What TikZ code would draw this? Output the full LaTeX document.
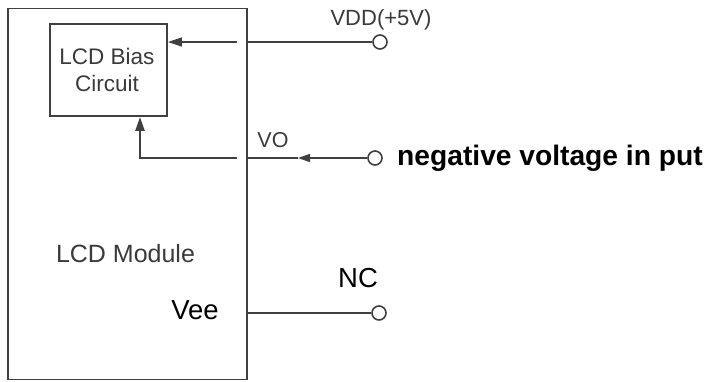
\documentclass[tikz,border=0pt]{standalone}
\usepackage{fontspec}
\setmainfont{Liberation Sans}
\usetikzlibrary{arrows.meta}
\definecolor{ln}{HTML}{404040}
\definecolor{gt}{HTML}{3A3A3A}
\begin{document}
\begin{tikzpicture}[x=1bp,y=-1bp,
  wire/.style={draw=ln,line width=1.6bp},
  boxstyle/.style={draw=ln,line width=1.8bp,inner sep=0pt},
  pinc/.style={circle,draw=ln,line width=1.6bp,minimum size=14bp,inner sep=0pt,fill=white},
  graytext/.style={text=gt,inner sep=0pt,anchor=center},
  blacktext/.style={text=black,inner sep=0pt,anchor=center},
  tipA/.style={-{Triangle[length=14bp,width=9bp]}},
  tipB/.style={-{Triangle[length=12bp,width=8bp]}}]
\useasboundingbox (0,0) rectangle (709,381);
% main module box
\node[boxstyle,minimum width=239bp,minimum height=371bp] (lcd) at (127.5,194) {};
% bias circuit box
\node[boxstyle,minimum width=117bp,minimum height=92bp] (bias) at (108.5,70) {};
\node[graytext,font=\fontsize{22.5bp}{27bp}\selectfont,align=center] (biastxt) at (107,69.5) {LCD Bias\\Circuit};
% labels
\node[graytext,font=\fontsize{25bp}{28bp}\selectfont] (modtxt) at (125.5,254) {LCD Module};
\node[blacktext,font=\fontsize{27.5bp}{30bp}\selectfont] (veetxt) at (195,310) {Vee};
\node[graytext,font=\fontsize{22bp}{26bp}\selectfont] (vddtxt) at (381,20) {VDD(+5V)};
\node[graytext,font=\fontsize{21.5bp}{26bp}\selectfont] (votxt) at (273,140) {VO};
\node[blacktext,font=\fontsize{27.5bp}{30bp}\selectfont] (nctxt) at (358,278) {NC};
% pins
\node[pinc] (vddpin) at (380,42) {};
\node[pinc] (vopin) at (375,158) {};
\node[pinc] (ncpin) at (379,313) {};
\node[blacktext,anchor=west,font=\bfseries\fontsize{28.2bp}{30bp}\selectfont] (negtxt) at (397,158) {negative voltage in put};
% coordinates
\coordinate (vddin) at (237,42);
\coordinate (voin) at (237,158);
\coordinate (vocorner) at (140,158);
\coordinate (vomid) at (298,158);
% VDD connection
\draw[wire] (vddpin.west) -- (lcd.east |- vddpin);
\draw[wire,tipA] (vddin) -- (bias.east |- vddin);
% VO connection
\draw[wire,tipB] (vopin.west) -- (vomid);
\draw[wire] (vomid) -- (lcd.east |- vopin);
\draw[wire,line width=2.4bp,tipA] (voin) -- (vocorner) -- (vocorner |- bias.south);
% NC
\draw[wire] (lcd.east |- ncpin) -- (ncpin.west);
\end{tikzpicture}
\end{document}
